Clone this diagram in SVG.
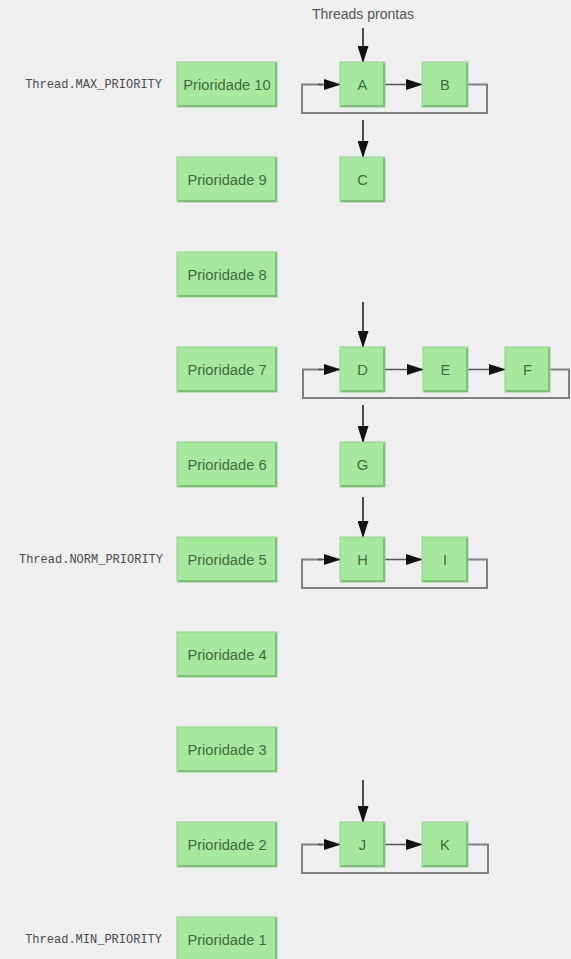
<svg xmlns="http://www.w3.org/2000/svg" width="571" height="959" viewBox="0 0 571 959">
<defs>
<style>
.bg{fill:#efefef}
.pbox{fill:#a5e89e;stroke:#8fd488;stroke-width:1}
.tbox{fill:#a5e89e;stroke:#8fd488;stroke-width:1}
.edge{fill:none;stroke:#7ec078;stroke-width:2}
.ptxt{font-family:"Liberation Sans","DejaVu Sans",sans-serif;font-size:14.7px;fill:#3f6e3c;text-anchor:middle;dominant-baseline:central}
.ttxt{font-family:"Liberation Sans","DejaVu Sans",sans-serif;font-size:14.7px;fill:#3f6e3c;text-anchor:middle;dominant-baseline:central}
.ltxt{font-family:"Liberation Mono","DejaVu Sans Mono",monospace;font-size:12px;fill:#4a4a4a;text-anchor:end;dominant-baseline:central}
.head{font-family:"Liberation Sans","DejaVu Sans",sans-serif;font-size:14px;fill:#555;text-anchor:middle}
.loop{fill:none;stroke:#808080;stroke-width:2}
.arr{fill:none;stroke:#555;stroke-width:1.6;marker-end:url(#ah)}
.varr{fill:none;stroke:#222;stroke-width:1.6;marker-end:url(#ah)}
</style>
<marker id="ah" markerUnits="userSpaceOnUse" markerWidth="17" markerHeight="11" refX="16" refY="5.5" orient="auto">
<path d="M0,0 L17,5.5 L0,11 Z" fill="#111"/>
</marker>
</defs>
<rect class="bg" x="0" y="0" width="571" height="959"/>

<text class="head" x="363" y="19">Threads prontas</text>

<g id="labels">
<text class="ltxt" x="162" y="84.5">Thread.MAX_PRIORITY</text>
<text class="ltxt" x="163" y="559.5">Thread.NORM_PRIORITY</text>
<text class="ltxt" x="162" y="939.5">Thread.MIN_PRIORITY</text>
</g>

<g id="p10"><rect class="pbox" x="177" y="62" width="100" height="45"/><path class="edge" d="M178,106 H276 V63"/><text class="ptxt" x="227" y="84.5">Prioridade 10</text></g>
<g id="p9"><rect class="pbox" x="177" y="157" width="100" height="45"/><path class="edge" d="M178,201 H276 V158"/><text class="ptxt" x="227" y="179.5">Prioridade 9</text></g>
<g id="p8"><rect class="pbox" x="177" y="252" width="100" height="45"/><path class="edge" d="M178,296 H276 V253"/><text class="ptxt" x="227" y="274.5">Prioridade 8</text></g>
<g id="p7"><rect class="pbox" x="177" y="347" width="100" height="45"/><path class="edge" d="M178,391 H276 V348"/><text class="ptxt" x="227" y="369.5">Prioridade 7</text></g>
<g id="p6"><rect class="pbox" x="177" y="442" width="100" height="45"/><path class="edge" d="M178,486 H276 V443"/><text class="ptxt" x="227" y="464.5">Prioridade 6</text></g>
<g id="p5"><rect class="pbox" x="177" y="537" width="100" height="45"/><path class="edge" d="M178,581 H276 V538"/><text class="ptxt" x="227" y="559.5">Prioridade 5</text></g>
<g id="p4"><rect class="pbox" x="177" y="632" width="100" height="45"/><path class="edge" d="M178,676 H276 V633"/><text class="ptxt" x="227" y="654.5">Prioridade 4</text></g>
<g id="p3"><rect class="pbox" x="177" y="727" width="100" height="45"/><path class="edge" d="M178,771 H276 V728"/><text class="ptxt" x="227" y="749.5">Prioridade 3</text></g>
<g id="p2"><rect class="pbox" x="177" y="822" width="100" height="45"/><path class="edge" d="M178,866 H276 V823"/><text class="ptxt" x="227" y="844.5">Prioridade 2</text></g>
<g id="p1"><rect class="pbox" x="177" y="917" width="100" height="45"/><path class="edge" d="M178,961 H276 V918"/><text class="ptxt" x="227" y="939.5">Prioridade 1</text></g>

<g id="connectors">
<line class="varr" x1="363" y1="28" x2="363" y2="62"/>
<line class="arr" x1="385" y1="84.5" x2="422" y2="84.5"/>
<path class="loop" d="M468,84.5 H487 V113 H302 V84.5 H322"/>
<line class="arr" x1="318" y1="84.5" x2="340" y2="84.5"/>
<line class="varr" x1="363" y1="120" x2="363" y2="157"/>

<line class="varr" x1="363" y1="302" x2="363" y2="347"/>
<line class="arr" x1="385" y1="369.5" x2="423" y2="369.5"/>
<line class="arr" x1="468" y1="369.5" x2="505" y2="369.5"/>
<path class="loop" d="M550,369.5 H569 V398 H303 V369.5 H322"/>
<line class="arr" x1="318" y1="369.5" x2="340" y2="369.5"/>
<line class="varr" x1="363" y1="405" x2="363" y2="442"/>

<line class="varr" x1="363" y1="497" x2="363" y2="537"/>
<line class="arr" x1="385" y1="559.5" x2="422" y2="559.5"/>
<path class="loop" d="M468,559.5 H487 V588 H302 V559.5 H322"/>
<line class="arr" x1="318" y1="559.5" x2="340" y2="559.5"/>

<line class="varr" x1="363" y1="780" x2="363" y2="822"/>
<line class="arr" x1="385" y1="844.5" x2="422" y2="844.5"/>
<path class="loop" d="M468,844.5 H488 V873 H302 V844.5 H322"/>
<line class="arr" x1="318" y1="844.5" x2="340" y2="844.5"/>
</g>

<g id="A"><rect class="tbox" x="340" y="62" width="45" height="45"/><path class="edge" d="M341,106 H384 V63"/><text class="ttxt" x="362.5" y="84.5">A</text></g>
<g id="B"><rect class="tbox" x="422" y="62" width="46" height="45"/><path class="edge" d="M423,106 H467 V63"/><text class="ttxt" x="445" y="84.5">B</text></g>
<g id="C"><rect class="tbox" x="340" y="157" width="45" height="45"/><path class="edge" d="M341,201 H384 V158"/><text class="ttxt" x="362.5" y="179.5">C</text></g>
<g id="D"><rect class="tbox" x="340" y="347" width="45" height="45"/><path class="edge" d="M341,391 H384 V348"/><text class="ttxt" x="362.5" y="369.5">D</text></g>
<g id="E"><rect class="tbox" x="423" y="347" width="45" height="45"/><path class="edge" d="M424,391 H467 V348"/><text class="ttxt" x="445.5" y="369.5">E</text></g>
<g id="F"><rect class="tbox" x="505" y="347" width="45" height="45"/><path class="edge" d="M506,391 H549 V348"/><text class="ttxt" x="527.5" y="369.5">F</text></g>
<g id="G"><rect class="tbox" x="340" y="442" width="45" height="45"/><path class="edge" d="M341,486 H384 V443"/><text class="ttxt" x="362.5" y="464.5">G</text></g>
<g id="H"><rect class="tbox" x="340" y="537" width="45" height="45"/><path class="edge" d="M341,581 H384 V538"/><text class="ttxt" x="362.5" y="559.5">H</text></g>
<g id="I"><rect class="tbox" x="422" y="537" width="46" height="45"/><path class="edge" d="M423,581 H467 V538"/><text class="ttxt" x="445" y="559.5">I</text></g>
<g id="J"><rect class="tbox" x="340" y="822" width="45" height="45"/><path class="edge" d="M341,866 H384 V823"/><text class="ttxt" x="362.5" y="844.5">J</text></g>
<g id="K"><rect class="tbox" x="422" y="822" width="46" height="45"/><path class="edge" d="M423,866 H467 V823"/><text class="ttxt" x="445" y="844.5">K</text></g>
</svg>
